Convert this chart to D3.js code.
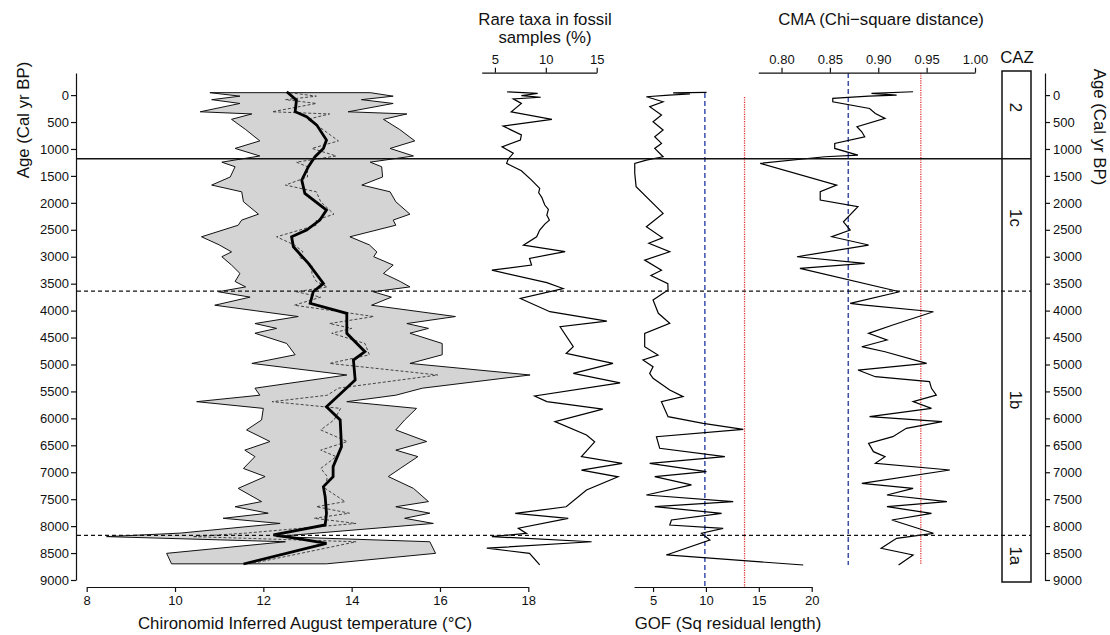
<!DOCTYPE html>
<head>
  <meta charset="utf-8">
  <script src="https://d3js.org/d3.v7.min.js"></script>
  <style>
    body {
      margin:0; background:white;
      font-family: "Liberation Sans", Arial, sans-serif;
    }
    .axis text { font-size: 13px; font-family: "Liberation Sans", Arial, sans-serif; fill:#111; }
    .axis path, .axis line { stroke:#111; stroke-width:1.2; }
    .title { font-size: 16.8px; fill:#111; }
  </style>
</head>

<body>
  <script>
    // sample ages (cal yr BP) with temperature band (lower / upper) and inferred value
    var bandAges = [-45,20,85,155,310,350,450,640,850,990,1130,1245,1330,1520,1670,1795,1980,2210,2320,2415,2630,2780,2910,3000,3155,3310,3460,3560,3650,3750,3900,4110,4240,4330,4420,4610,4820,4980,5195,5440,5570,5690,5815,6030,6215,6430,6590,6710,6930,7080,7300,7545,7640,7760,7855,7950,8130,8195,8290,8505,8700];
    var bandLow  = [10.79,11.47,10.83,11.47,10.57,11.74,11.28,11.6,11.92,11.36,11.92,11.06,11.36,11.25,10.83,11.51,11.55,11.89,11.51,11.43,10.6,11.0,11.28,11.06,11.28,11.47,11.36,11.6,10.98,11.7,10.9,12.79,11.81,12.3,11.81,12.53,12.72,11.74,13.89,11.81,11.92,10.49,12.0,11.96,11.62,12.15,11.58,11.81,11.55,12.04,11.43,11.96,11.36,12.11,11.09,12.38,10.11,8.45,12.5,9.81,9.92];
    var bandHigh = [14.42,14.94,14.22,14.94,13.92,15.25,14.72,15.09,15.43,14.87,15.4,14.42,14.68,14.7,14.23,14.87,15.0,15.32,14.94,15.0,13.96,14.4,14.57,14.5,14.94,14.72,15.1,15.32,14.49,14.9,14.45,16.35,15.25,15.74,15.32,16.05,16.05,15.32,18.04,15.6,15.0,13.89,15.47,15.2,15.0,15.7,15.0,15.5,15.1,14.83,15.4,15.74,15.0,15.77,15.2,15.85,13.2,12.3,15.77,15.9,13.43];
    var recon    = [12.6,13.2,12.5,13.2,12.2,13.5,13.0,13.35,13.7,13.1,13.65,12.75,13.0,13.0,12.5,13.2,13.3,13.6,13.2,13.2,12.3,12.7,12.9,12.8,13.1,13.1,13.2,13.45,12.75,13.3,12.7,14.5,13.5,14.0,13.55,14.3,14.4,13.5,15.95,13.7,13.45,12.2,13.75,13.6,13.3,13.9,13.3,13.65,13.3,13.45,13.4,13.85,13.2,13.95,13.15,14.1,11.6,10.4,14.1,12.85,11.7];

    // smoothed (LOESS) temperature [age, degC]
    var loess = [[-62,12.53],[93,12.75],[309,12.72],[402,12.98],[557,13.21],[835,13.43],[990,13.36],[1144,13.17],[1330,13.02],[1577,12.87],[1825,12.94],[2134,13.43],[2320,13.28],[2505,12.98],[2629,12.64],[2815,12.68],[3124,13.02],[3495,13.36],[3650,13.13],[3866,13.06],[4052,13.89],[4422,13.89],[4670,14.19],[4762,14.3],[4917,14.04],[5288,14.08],[5783,13.43],[6030,13.74],[6525,13.77],[6896,13.58],[7082,13.58],[7267,13.36],[7453,13.4],[7762,13.43],[7979,13.4],[8164,12.23],[8226,12.75],[8319,13.43],[8703,11.55]];

    // rare taxa in fossil samples (%) [age, %]
    var rareTaxa = [[-60,6.2],[-30,9.2],[10,7.6],[40,9.5],[70,6.8],[155,7.6],[310,6.6],[450,10.6],[575,5.8],[740,7.6],[835,7.5],[960,5.7],[1080,6.8],[1190,6.3],[1268,6.15],[1404,7.6],[1577,8.6],[1732,9.4],[1812,9.3],[1898,9.6],[2041,9.9],[2121,10.25],[2227,10.1],[2320,10.35],[2394,9.9],[2505,9.4],[2630,9.1],[2785,7.8],[2905,11.9],[3030,8.4],[3155,8.6],[3250,4.7],[3480,10.1],[3590,11.7],[3775,7.5],[4020,10.4],[4195,16.0],[4300,11.4],[4670,12.7],[4795,12.0],[4980,16.6],[5165,12.7],[5340,17.3],[5585,8.9],[5690,10.1],[5830,15.6],[6060,10.9],[6310,14.0],[6435,14.8],[6710,13.5],[6835,17.5],[6960,13.5],[7085,17.1],[7330,14.0],[7640,12.0],[7765,7.0],[7855,12.2],[8040,7.3],[8135,8.1],[8195,4.7],[8290,14.5],[8410,4.2],[8505,8.4],[8720,9.4]];

    // goodness of fit [age, sq residual length]
    var gof = [[-50,10.06],[-40,6.9],[-20,8.5],[0,6.5],[31,4.37],[124,5.95],[217,4.69],[371,5.8],[495,5.0],[649,5.95],[773,5.16],[897,5.8],[990,5.16],[1144,5.95],[1206,4.37],[1268,3.27],[1450,3.27],[1700,3.4],[2196,5.95],[2443,4.37],[2650,5.9],[2750,4.6],[2907,6.58],[3062,4.21],[3250,5.8],[3350,4.8],[3500,6.4],[3618,6.42],[3804,5.0],[4050,5.5],[4237,6.58],[4422,4.21],[4670,4.21],[4824,5.47],[4917,4.05],[5041,5.0],[5165,4.68],[5257,5.0],[5474,6.58],[5597,7.84],[5690,5.79],[5969,6.42],[6092,9.74],[6204,13.53],[6340,5.32],[6556,5.63],[6711,11.79],[6834,4.68],[6989,10.05],[7082,5.16],[7236,8.63],[7422,4.37],[7546,12.58],[7639,5.16],[7762,11.48],[7886,6.74],[7979,6.58],[8041,11.63],[8133,9.58],[8257,10.37],[8535,6.26],[8722,19.2]];
    var gofBlue = 9.9, gofRed = 13.65;

    // closest modern analogue [age, chi-square distance]
    var cma = [[-62,0.936],[-31,0.893],[0,0.919],[20,0.89],[43,0.869],[62,0.853],[124,0.853],[248,0.891],[340,0.897],[433,0.907],[588,0.878],[681,0.883],[773,0.886],[897,0.855],[990,0.855],[1113,0.879],[1144,0.845],[1268,0.778],[1670,0.857],[1794,0.84],[1948,0.84],[2072,0.879],[2351,0.864],[2505,0.871],[2629,0.852],[2783,0.89],[3000,0.816],[3124,0.886],[3216,0.819],[3650,0.922],[3866,0.871],[3897,0.886],[4021,0.957],[4268,0.915],[4422,0.89],[4546,0.909],[4670,0.883],[4763,0.907],[4979,0.95],[5103,0.879],[5227,0.897],[5319,0.953],[5443,0.955],[5567,0.96],[5690,0.936],[5814,0.955],[5969,0.891],[6062,0.966],[6185,0.929],[6340,0.915],[6463,0.89],[6618,0.895],[6711,0.907],[6835,0.897],[6958,0.974],[7206,0.883],[7298,0.936],[7422,0.909],[7546,0.971],[7639,0.909],[7762,0.955],[7886,0.914],[8133,0.957],[8226,0.919],[8412,0.903],[8535,0.936],[8721,0.921]];
    var cmaBlue = 0.869, cmaRed = 0.944;

    // zone boundaries and labels
    var zoneLines = [{age:1180, dash:false}, {age:3640, dash:true}, {age:8170, dash:true}];
    var zones = [{label:"2", age:230}, {label:"1c", age:2280}, {label:"1b", age:5660}, {label:"1a", age:8550}];
    var ageTicks = d3.range(0, 9001, 500);

    var svg = d3.select("body").append("svg")
      .attr("width", 1110)
      .attr("height", 635)

    var y = d3.scaleLinear().domain([-410, 9000]).range([73, 580]);
    var xTemp = d3.scaleLinear().domain([8, 18]).range([86.7, 528.3]);
    var xRare = d3.scaleLinear().domain([3.7, 15]).range([481.7, 596.7]);
    var xGof = d3.scaleLinear().domain([3.2, 20]).range([634, 811.7]);
    var xCma = d3.scaleLinear().domain([0.776, 1.0]).range([758.3, 975]);

    // age axes
    svg.append("g").attr("class", "axis")
      .attr("transform", "translate(76,0)")
      .call(d3.axisLeft(y).tickValues(ageTicks).tickFormat(d3.format("d")).tickSize(5).tickSizeOuter(0).tickPadding(2))
    svg.append("g").attr("class", "axis")
      .attr("transform", "translate(1045,0)")
      .call(d3.axisRight(y).tickValues(ageTicks).tickFormat(d3.format("d")).tickSize(5).tickSizeOuter(0).tickPadding(3))

    svg.append("text").attr("class", "title")
      .attr("transform", "translate(29,120) rotate(-90)")
      .attr("text-anchor", "middle")
      .text("Age (Cal yr BP)")
    svg.append("text").attr("class", "title")
      .attr("transform", "translate(1094,127) rotate(90)")
      .attr("text-anchor", "middle")
      .text("Age (Cal yr BP)")

    // temperature band
    var band = bandAges.map(function(a, i) { return {age:a, lo:bandLow[i], hi:bandHigh[i], t:recon[i]}; });
    svg.append("path").datum(band)
      .attr("d", d3.area().y(function(d) {return y(d.age)}).x0(function(d) {return xTemp(d.lo)}).x1(function(d) {return xTemp(d.hi)}))
      .style("fill", "#d4d4d4").style("stroke", "#111").style("stroke-width", 1)
    svg.append("path").datum(band)
      .attr("d", d3.line().x(function(d) {return xTemp(d.t)}).y(function(d) {return y(d.age)}))
      .style("fill", "none").style("stroke", "#333").style("stroke-width", 0.9).style("stroke-dasharray", "3,2")
    svg.append("path").datum(loess)
      .attr("d", d3.line().x(function(d) {return xTemp(d[1])}).y(function(d) {return y(d[0])}))
      .style("fill", "none").style("stroke", "#000").style("stroke-width", 2.8)

    svg.append("g").attr("class", "axis")
      .attr("transform", "translate(0,587)")
      .call(d3.axisBottom(xTemp).tickValues([8,10,12,14,16,18]).tickSize(5).tickSizeOuter(0).tickPadding(4))
    svg.append("text").attr("class", "title")
      .attr("x", 305).attr("y", 629).attr("text-anchor", "middle")
      .text("Chironomid Inferred August temperature (°C)")

    // rare taxa
    svg.append("path").datum(rareTaxa)
      .attr("d", d3.line().x(function(d) {return xRare(d[1])}).y(function(d) {return y(d[0])}))
      .style("fill", "none").style("stroke", "#000").style("stroke-width", 1.2)
    svg.append("g").attr("class", "axis")
      .attr("transform", "translate(0,72.7)")
      .call(d3.axisTop(xRare).tickValues([5,10,15]).tickSize(5).tickSizeOuter(0).tickPadding(4))
    svg.append("text").attr("class", "title")
      .attr("x", 545).attr("y", 25).attr("text-anchor", "middle").text("Rare taxa in fossil")
    svg.append("text").attr("class", "title")
      .attr("x", 545).attr("y", 43).attr("text-anchor", "middle").text("samples (%)")

    // GOF
    svg.append("line")
      .attr("x1", xGof(gofBlue)).attr("x2", xGof(gofBlue)).attr("y1", 93).attr("y2", 588)
      .style("stroke", "#3b4fa8").style("stroke-width", 1.5).style("stroke-dasharray", "5,3")
    svg.append("line")
      .attr("x1", xGof(gofRed)).attr("x2", xGof(gofRed)).attr("y1", 97).attr("y2", 588)
      .style("stroke", "#e03030").style("stroke-width", 1.3).style("stroke-dasharray", "1.2,1.2")
    svg.append("path").datum(gof)
      .attr("d", d3.line().x(function(d) {return xGof(d[1])}).y(function(d) {return y(d[0])}))
      .style("fill", "none").style("stroke", "#000").style("stroke-width", 1.2)
    svg.append("g").attr("class", "axis")
      .attr("transform", "translate(0,587)")
      .call(d3.axisBottom(xGof).tickValues([5,10,15,20]).tickSize(5).tickSizeOuter(0).tickPadding(4))
    svg.append("text").attr("class", "title")
      .attr("x", 728).attr("y", 629).attr("text-anchor", "middle").text("GOF (Sq residual length)")

    // CMA
    svg.append("line")
      .attr("x1", xCma(cmaBlue)).attr("x2", xCma(cmaBlue)).attr("y1", 73).attr("y2", 565)
      .style("stroke", "#3b4fa8").style("stroke-width", 1.5).style("stroke-dasharray", "5,3")
    svg.append("line")
      .attr("x1", xCma(cmaRed)).attr("x2", xCma(cmaRed)).attr("y1", 73).attr("y2", 565)
      .style("stroke", "#e03030").style("stroke-width", 1.3).style("stroke-dasharray", "1.2,1.2")
    svg.append("path").datum(cma)
      .attr("d", d3.line().x(function(d) {return xCma(d[1])}).y(function(d) {return y(d[0])}))
      .style("fill", "none").style("stroke", "#000").style("stroke-width", 1.2)
    svg.append("g").attr("class", "axis")
      .attr("transform", "translate(0,72.7)")
      .call(d3.axisTop(xCma).tickValues([0.8,0.85,0.9,0.95,1.0]).tickFormat(d3.format(".2f")).tickSize(5).tickSizeOuter(0).tickPadding(4))
    svg.append("text").attr("class", "title")
      .attr("x", 881).attr("y", 25).attr("text-anchor", "middle").text("CMA (Chi\u2212square distance)")

    // zone lines
    svg.selectAll(".zline").data(zoneLines).enter().append("line")
      .attr("class", "zline")
      .attr("x1", 77).attr("x2", 1031)
      .attr("y1", function(d) {return y(d.age)}).attr("y2", function(d) {return y(d.age)})
      .style("stroke", "#111").style("stroke-width", function(d) {return d.dash ? 1.2 : 1.5})
      .style("stroke-dasharray", function(d) {return d.dash ? "4,3" : null})

    // CAZ column
    svg.append("rect")
      .attr("x", 1002).attr("y", 71).attr("width", 29).attr("height", 511)
      .style("fill", "none").style("stroke", "#111").style("stroke-width", 1.5)
    svg.append("text").attr("class", "title")
      .attr("x", 1017).attr("y", 63).attr("text-anchor", "middle").text("CAZ")
    svg.selectAll(".zone").data(zones).enter().append("text")
      .attr("class", "title")
      .attr("transform", function(d) {return "translate(1010," + y(d.age) + ") rotate(90)"})
      .attr("text-anchor", "middle")
      .text(function(d) {return d.label})
  </script>
</body>
